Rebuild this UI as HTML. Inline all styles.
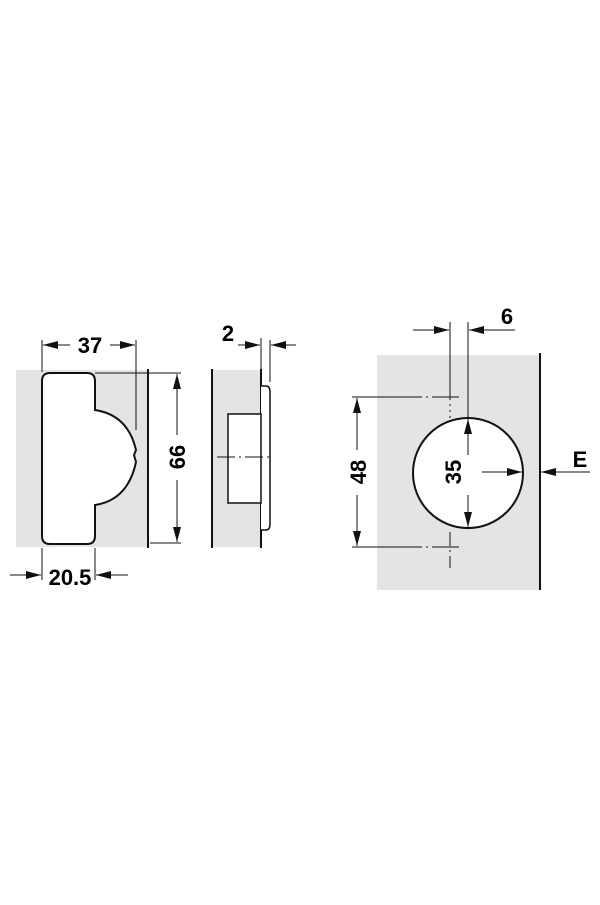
<!DOCTYPE html>
<html><head><style>body{margin:0;background:#fff}</style></head><body>
<svg width="600" height="900" xmlns="http://www.w3.org/2000/svg" font-family="Liberation Sans, sans-serif" font-weight="bold">
<defs><marker id="a" markerWidth="15" markerHeight="8" refX="15" refY="4" orient="auto" markerUnits="userSpaceOnUse"><path d="M0,0L15,4L0,8z" fill="#111"/></marker></defs>
<rect width="600" height="900" fill="#fff"/>
<!-- left -->
<rect x="16" y="370" width="132" height="177" fill="#e4e4e5"/>
<line x1="148" y1="369" x2="148" y2="548" stroke="#111" stroke-width="2"/>
<path d="M50,373 H87 Q95,373 95,381 V410 Q128,415 136,450 L134,455 L136,462 Q128,500 95,505 V536 Q95,544 87,544 H50 Q42,544 42,536 V381 Q42,373 50,373Z" fill="#fff" stroke="#111" stroke-width="2"/>
<g stroke="#111" stroke-width="1" fill="none">
<line x1="42" y1="340" x2="42" y2="372"/><line x1="136" y1="340" x2="136" y2="430"/>
<line x1="70" y1="345" x2="43" y2="345" marker-end="url(#a)"/><line x1="110" y1="345" x2="135" y2="345" marker-end="url(#a)"/>
<line x1="95" y1="373" x2="181" y2="373"/><line x1="150" y1="543" x2="181" y2="543"/>
<line x1="177" y1="435" x2="177" y2="374" marker-end="url(#a)"/><line x1="177" y1="480" x2="177" y2="542" marker-end="url(#a)"/>
<line x1="42" y1="548" x2="42" y2="580"/><line x1="95" y1="548" x2="95" y2="580"/>
<line x1="10" y1="575" x2="41" y2="575" marker-end="url(#a)"/><line x1="128" y1="575" x2="96" y2="575" marker-end="url(#a)"/>
</g>
<text x="90" y="353" font-size="22" text-anchor="middle">37</text>
<text x="70" y="585" font-size="22" text-anchor="middle">20.5</text>
<text transform="translate(185,457) rotate(-90)" font-size="22" text-anchor="middle">66</text>
<!-- middle -->
<rect x="212" y="370" width="49" height="177" fill="#e4e4e5"/>
<line x1="212" y1="369" x2="212" y2="548" stroke="#111" stroke-width="2"/>
<line x1="261" y1="369" x2="261" y2="548" stroke="#111" stroke-width="2"/>
<path d="M261,386 H266 Q270,386 270,392 V524 Q270,530 266,530 H261" fill="#fff" stroke="#111" stroke-width="1.5"/>
<rect x="228" y="414" width="33" height="89" fill="#fff" stroke="#111" stroke-width="1.5"/>
<g stroke="#111" stroke-width="1" fill="none">
<line x1="217" y1="457" x2="273" y2="457" stroke-dasharray="18,4,2,4"/>
<line x1="261" y1="338" x2="261" y2="369"/><line x1="270" y1="340" x2="270" y2="382"/>
<line x1="238" y1="345" x2="260" y2="345" marker-end="url(#a)"/><line x1="296" y1="345" x2="271" y2="345" marker-end="url(#a)"/>
</g>
<text x="228" y="341" font-size="22" text-anchor="middle">2</text>
<!-- right -->
<rect x="377" y="355" width="163" height="235" fill="#e4e4e5"/>
<line x1="540" y1="353" x2="540" y2="590" stroke="#111" stroke-width="2"/>
<circle cx="468" cy="473" r="55" fill="#fff" stroke="#111" stroke-width="2"/>
<g stroke="#111" stroke-width="1" fill="none">
<line x1="450" y1="322" x2="450" y2="400"/><line x1="468" y1="322" x2="468" y2="418"/>
<line x1="413" y1="330" x2="449" y2="330" marker-end="url(#a)"/><line x1="515" y1="330" x2="469" y2="330" marker-end="url(#a)"/>
<line x1="352" y1="397" x2="459" y2="397" stroke-dasharray="70,4,2,4,40"/>
<line x1="352" y1="547" x2="459" y2="547" stroke-dasharray="70,4,2,4,40"/>
<line x1="450" y1="404" x2="450" y2="420" stroke-dasharray="2,4"/>
<line x1="450" y1="532" x2="450" y2="568" stroke-dasharray="14,4,2,4"/>
<line x1="357" y1="450" x2="357" y2="398" marker-end="url(#a)"/><line x1="357" y1="495" x2="357" y2="546" marker-end="url(#a)"/>
<line x1="468" y1="455" x2="468" y2="419" marker-end="url(#a)"/><line x1="468" y1="495" x2="468" y2="527" marker-end="url(#a)"/>
<line x1="482" y1="472" x2="522" y2="472" marker-end="url(#a)"/>
<line x1="590" y1="472" x2="541" y2="472" marker-end="url(#a)"/>
</g>
<text x="507" y="324" font-size="22" text-anchor="middle">6</text>
<text x="580" y="467" font-size="22" text-anchor="middle">E</text>
<text transform="translate(366,472) rotate(-90)" font-size="22" text-anchor="middle">48</text>
<text transform="translate(461,472) rotate(-90)" font-size="22" text-anchor="middle">35</text>
</svg>
</body></html>
